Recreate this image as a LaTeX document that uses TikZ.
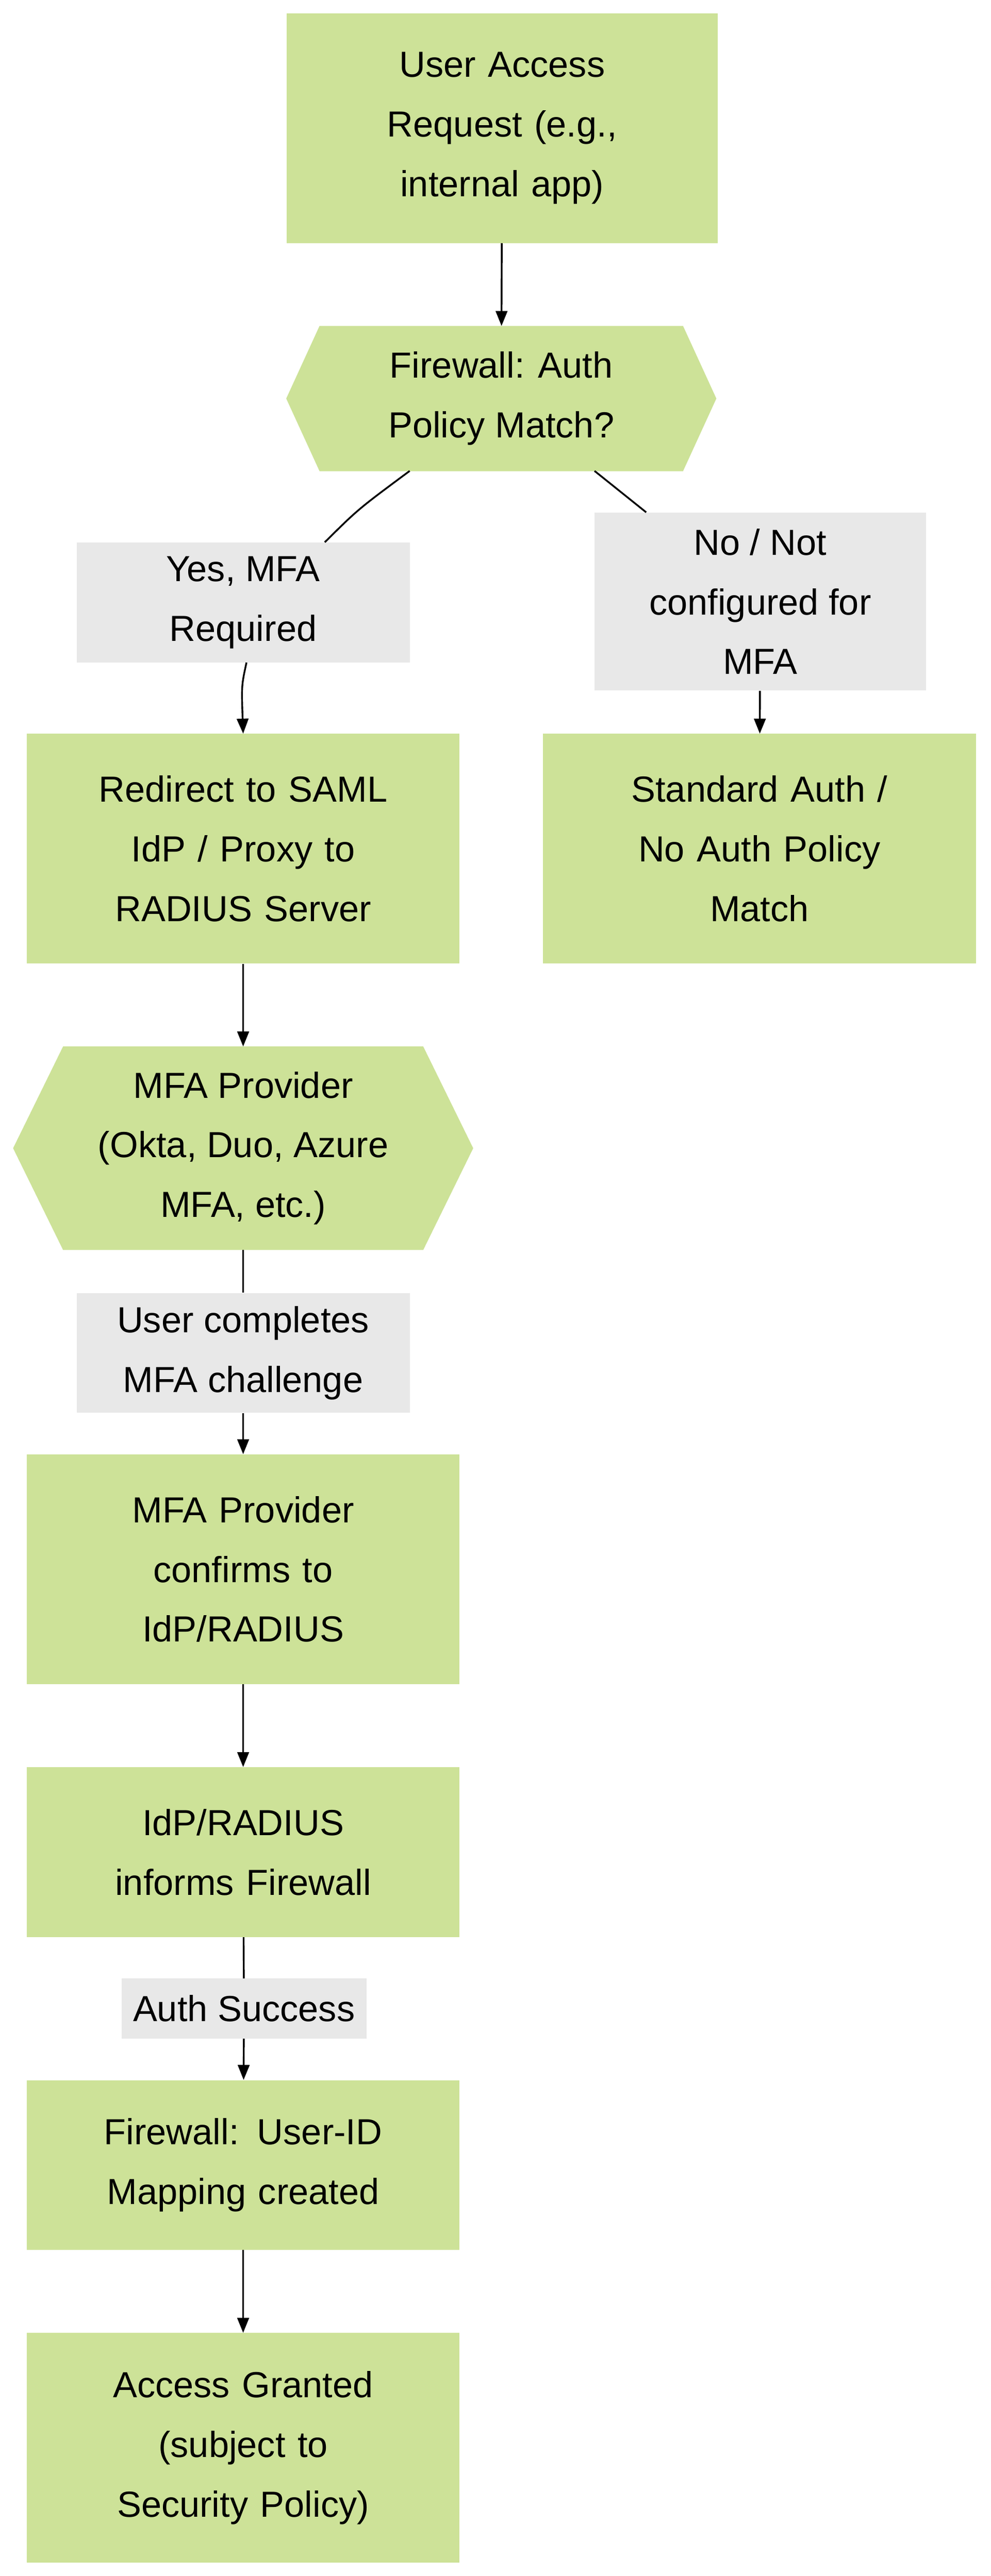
\documentclass[tikz,border=0pt]{standalone}
\usepackage{fontspec}
\setmainfont{Liberation Sans}
\usetikzlibrary{arrows.meta}
\definecolor{boxgreen}{RGB}{205,226,152}
\definecolor{labelgray}{RGB}{232,232,232}
\tikzset{
  flowbox/.style={fill=boxgreen,minimum width=13cm,align=center,text width=12cm},
  lbl/.style={fill=labelgray,align=center,inner sep=0pt},
  flow/.style={-{Triangle[length=0.45cm,width=0.35cm]},line width=1.5pt},
  link/.style={line width=1.5pt}
}
\begin{document}
\begin{tikzpicture}[x=0.05cm,y=-0.05cm,font=\fontsize{31}{51}\selectfont]
\useasboundingbox (0,0) rectangle (595,1548);

% boxes
\node[flowbox,minimum width=12.95cm,minimum height=6.9cm,text width=10cm] (req) at (301.5,77) {User Access\\Request (e.g.,\\internal app)};
\node[minimum width=12.9cm,minimum height=4.35cm,align=center] (fw) at (301,239.5) {};
\fill[boxgreen] (fw.west) -- ([xshift=1cm]fw.north west) -- ([xshift=-1cm]fw.north east) -- (fw.east)
  -- ([xshift=-1cm]fw.south east) -- ([xshift=1cm]fw.south west) -- cycle;
\node[align=center] at (fw) {Firewall: Auth\\Policy Match?};
\node[lbl,minimum width=10cm,minimum height=3.6cm] (yes) at (146,362) {Yes, MFA\\Required};
\node[lbl,minimum width=9.95cm,minimum height=5.35cm] (no) at (456.5,361.5) {No / Not\\configured for\\MFA};
\node[flowbox,minimum height=6.9cm] (redir) at (146,510) {Redirect to SAML\\IdP / Proxy to\\RADIUS Server};
\node[flowbox,minimum height=6.9cm] (std) at (456,510) {Standard Auth /\\No Auth Policy\\Match};
\node[minimum width=13.8cm,minimum height=6.1cm,align=center] (mfa) at (146,690) {};
\fill[boxgreen] (mfa.west) -- ([xshift=1.5cm]mfa.north west) -- ([xshift=-1.5cm]mfa.north east) -- (mfa.east)
  -- ([xshift=-1.5cm]mfa.south east) -- ([xshift=1.5cm]mfa.south west) -- cycle;
\node[align=center] at (mfa) {MFA Provider\\(Okta, Duo, Azure\\MFA, etc.)};
\node[lbl,minimum width=10cm,minimum height=3.6cm] (done) at (146,813) {User completes\\MFA challenge};
\node[flowbox,minimum height=6.9cm] (conf) at (146,943) {MFA Provider\\confirms to\\IdP/RADIUS};
\node[flowbox,minimum height=5.1cm] (inform) at (146,1113) {IdP/RADIUS\\informs Firewall};
\node[lbl,minimum width=7.35cm,minimum height=1.8cm] (ok) at (146.5,1207) {Auth Success};
\node[flowbox,minimum height=5.1cm] (map) at (146,1301) {Firewall: User-ID\\Mapping created};
\node[flowbox,minimum height=6.9cm] (grant) at (146,1471) {Access Granted\\(subject to\\Security Policy)};

% connectors
\draw[flow] (req) -- (fw);
\draw[link] (246,283) .. controls (215,306) .. (yes.north -| 195,0);
\draw[flow] (yes.south -| 148,0) .. controls (145,412) .. (redir.north);
\draw[link] (357,283) -- (no.north -| 388,0);
\draw[flow] (no) -- (std);
\draw[flow] (redir) -- (mfa);
\draw[link] (mfa.south) -- (done);
\draw[flow] (done) -- (conf);
\draw[flow] (conf) -- (inform);
\draw[link] (inform) -- (ok);
\draw[flow] (ok) -- (map);
\draw[flow] (map) -- (grant);
\end{tikzpicture}
\end{document}
